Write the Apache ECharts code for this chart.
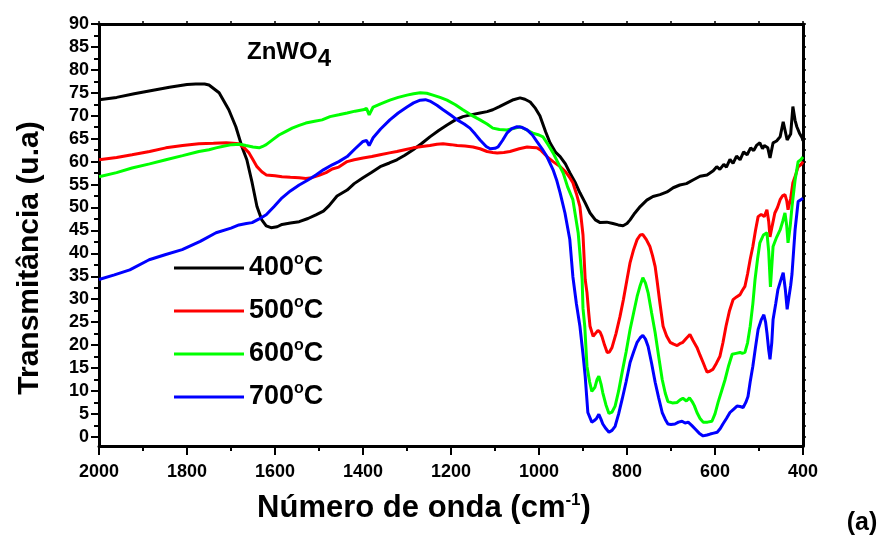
<!DOCTYPE html>
<html><head><meta charset="utf-8">
<script src="https://cdn.jsdelivr.net/npm/echarts@6/dist/echarts.min.js"></script>
<style>html,body{margin:0;padding:0;background:#fff}#c{width:878px;height:540px}</style>
</head><body><div id="c"></div><script>
const seriesNames = ['400°C', '500°C', '600°C', '700°C'];
const xTicks = [2000, 1800, 1600, 1400, 1200, 1000, 800, 600, 400];
const yTicks = [0,5,10,15,20,25,30,35,40,45,50,55,60,65,70,75,80,85,90];

const wn400 = [2000,1960,1920,1880,1840,1800,1780,1760,1750,1727,1705,1689,1675,1664,1652,1641,1630,1620,1609,1595,1584,1565,1545,1525,1507,1490,1477,1459,1436,1420,1400,1380,1361,1340,1323,1305,1286,1266,1248,1228,1209,1190,1173,1150,1134,1118,1105,1090,1073,1058,1043,1032,1020,1008,998,985,975,962,952,940,930,918,907,895,884,872,861,846,832,820,809,800,793,782,770,755,741,725,709,695,680,665,650,634,618,604,596,589,580,574,566,559,551,543,535,527,519,512,505,498,492,488,480,475,468,460,452,445,436,428,423,418,414,408,402,400];
const t400 = [73.5,74.0,74.8,75.5,76.2,76.8,76.9,76.9,76.7,75.0,71.3,67.6,63.2,60.4,55.4,50.2,47.3,46.0,45.6,45.8,46.3,46.6,46.9,47.6,48.4,49.2,50.4,52.5,53.8,55.2,56.5,57.7,58.9,59.7,60.4,61.4,62.6,64.0,65.4,66.8,68.0,69.1,69.8,70.3,70.6,70.9,71.3,72.0,72.8,73.5,73.9,73.6,73.0,71.6,70.0,66.5,64.1,62.0,61.1,59.5,57.6,55.5,53.2,51.0,48.8,47.3,46.7,46.8,46.5,46.2,46.0,46.5,47.3,48.8,50.2,51.6,52.4,52.8,53.4,54.3,54.9,55.2,56.0,56.8,57.1,58.0,58.9,58.3,59.4,58.8,60.5,59.6,61.2,60.4,62.1,61.5,63.0,62.4,63.6,64.1,62.8,63.5,63.0,60.8,64.1,64.5,65.4,68.7,64.7,66.0,72.0,69.0,67.6,66.2,65.2,64.5];

const wn500 = [2000,1960,1925,1885,1848,1810,1773,1740,1711,1695,1682,1670,1659,1650,1641,1630,1620,1600,1584,1565,1545,1530,1516,1500,1484,1470,1455,1436,1420,1400,1380,1361,1340,1323,1305,1286,1266,1248,1232,1218,1200,1186,1168,1150,1134,1118,1105,1095,1080,1066,1045,1027,1015,1005,995,982,968,952,940,930,923,915,907,900,895,891,887,884,877,872,866,861,857,851,845,840,834,825,816,808,800,793,785,777,770,764,756,748,742,736,732,725,718,710,702,694,686,680,673,665,657,650,641,634,627,622,618,612,605,597,589,582,575,567,559,551,543,538,532,526,520,514,508,502,495,488,482,478,475,470,464,458,452,446,441,437,434,428,423,417,411,405,400];
const t500 = [60.4,60.9,61.5,62.2,63.0,63.5,63.9,64.0,64.1,64.0,63.9,63.0,61.9,60.4,58.9,57.8,57.1,56.9,56.7,56.6,56.5,56.3,56.5,57.0,57.6,58.4,58.8,60.0,60.4,60.8,61.1,61.5,61.9,62.2,62.6,63.0,63.3,63.5,63.8,63.9,63.7,63.5,63.4,63.2,62.8,62.2,62.0,61.9,62.0,62.2,62.8,63.2,63.1,63.0,62.4,61.1,60.0,58.9,57.8,56.5,55.4,53.0,50.2,44.0,34.3,31.5,27.0,24.1,21.9,22.5,23.2,22.8,21.9,20.0,18.4,18.5,19.5,22.5,26.2,30.0,34.3,38.0,40.8,43.0,44.0,44.1,43.0,41.5,39.5,37.1,34.3,29.0,24.1,22.0,20.6,20.2,19.9,20.3,20.6,21.5,22.3,21.0,19.5,17.8,16.2,15.0,14.1,14.3,14.7,16.0,17.5,20.5,24.1,27.5,29.9,30.5,31.0,31.9,32.8,35.5,38.7,41.5,45.0,48.0,48.5,48.0,49.5,47.0,43.6,46.0,48.8,50.0,51.7,52.6,52.8,51.5,49.5,52.0,55.4,57.0,58.9,59.3,60.0];

const wn600 = [2000,1960,1925,1885,1848,1810,1773,1750,1734,1715,1698,1680,1666,1650,1636,1628,1620,1605,1591,1575,1561,1545,1530,1510,1493,1475,1455,1436,1418,1400,1392,1386,1377,1360,1339,1320,1300,1285,1270,1255,1241,1225,1209,1190,1173,1155,1134,1118,1105,1090,1073,1058,1043,1030,1014,1000,991,980,968,958,945,935,923,911,902,900,896,891,885,880,873,868,864,859,855,848,841,834,827,819,811,802,793,785,777,770,764,758,752,744,736,728,720,713,707,697,686,680,673,665,658,652,647,641,634,627,617,607,600,593,585,577,569,561,552,543,538,532,526,520,514,509,503,498,490,482,478,474,468,460,452,446,441,437,434,429,425,418,411,405,400];
const t600 = [56.7,57.6,58.6,59.5,60.4,61.3,62.2,62.6,63.0,63.4,63.7,63.8,63.5,63.2,63.0,63.3,63.7,64.8,65.8,66.6,67.3,67.9,68.4,68.8,69.1,69.8,70.2,70.6,71.0,71.3,71.6,70.2,71.9,72.6,73.4,74.0,74.5,74.8,75.0,74.9,74.5,74.0,73.4,72.4,71.3,70.2,69.1,68.2,67.3,67.0,66.9,67.2,67.6,67.0,66.2,65.8,65.4,63.8,61.9,60.0,57.5,54.5,51.7,44.5,34.3,28.0,24.1,15.4,12.0,9.9,10.8,12.5,13.2,11.5,9.6,7.0,5.1,5.4,6.7,10.0,14.1,18.5,23.4,27.0,30.6,33.0,34.7,33.5,31.4,27.0,22.7,17.5,12.5,9.5,7.7,7.4,7.5,8.0,8.4,7.8,8.5,7.7,6.8,5.3,4.0,3.2,3.2,3.4,5.0,7.5,10.0,12.5,15.5,18.0,18.2,18.4,18.2,18.4,20.5,24.1,29.0,34.3,39.0,42.3,44.0,44.5,40.5,32.7,41.5,43.5,45.1,47.0,48.8,46.0,42.3,46.0,50.2,56.0,60.0,60.4,61.0];

const wn700 = [2000,1965,1930,1886,1850,1811,1770,1734,1700,1682,1665,1652,1636,1620,1602,1584,1565,1545,1525,1507,1490,1470,1455,1436,1418,1400,1392,1386,1377,1360,1339,1320,1300,1285,1270,1258,1248,1232,1218,1200,1186,1170,1157,1145,1134,1120,1111,1100,1093,1083,1073,1062,1050,1040,1027,1015,1005,993,982,968,960,952,941,930,923,915,907,900,895,889,880,875,870,864,859,855,848,841,834,827,819,811,802,793,785,777,770,764,758,752,744,736,728,720,713,707,700,691,683,675,668,661,653,645,636,627,618,611,603,595,588,582,574,566,558,550,543,536,530,525,520,514,508,502,495,489,485,482,478,475,471,468,462,457,451,445,440,436,432,428,425,421,418,411,405,400];
const t700 = [34.3,35.3,36.4,38.6,39.7,40.8,42.6,44.5,45.5,46.2,46.5,46.7,47.5,48.4,50.2,52.1,53.6,54.9,56.0,57.1,58.2,59.3,60.0,61.1,62.8,64.4,64.6,63.5,65.2,67.1,69.1,70.6,71.9,72.8,73.4,73.5,73.2,72.3,71.3,70.1,69.1,68.2,67.3,66.0,64.7,63.3,62.8,62.9,63.2,64.6,66.2,67.2,67.6,67.5,66.9,65.8,64.4,62.8,61.1,58.2,56.0,53.2,48.8,43.0,34.9,29.0,24.1,18.0,13.2,5.3,3.2,3.5,3.9,4.9,3.8,2.8,1.8,1.0,1.4,2.3,5.0,8.2,12.0,16.2,18.5,20.6,21.6,22.1,21.3,19.7,16.0,11.9,8.5,5.3,3.8,2.8,2.7,2.8,3.2,3.4,3.0,3.2,2.5,1.7,0.8,0.2,0.4,0.6,0.8,1.0,1.8,2.8,4.0,5.3,6.0,6.7,6.6,6.4,7.5,8.8,12.0,15.4,19.5,23.4,25.5,26.6,25.0,22.7,19.0,16.9,20.5,25.6,29.0,32.1,34.0,35.8,32.0,27.8,30.5,33.0,35.5,41.0,45.1,51.3,51.7,52.0];

const colors = ['#000000', '#ff0000', '#00ff00', '#0000ff'];
const FONT = '"Liberation Sans", Arial, sans-serif';
const zip = (a, b) => a.map((v, i) => [v, b[i]]);
const allData = [zip(wn400, t400), zip(wn500, t500), zip(wn600, t600), zip(wn700, t700)];

const minorY = [];
for (let v = 2.5; v < 90; v += 5) minorY.push(v);
const rightY = [];
for (let v = 0; v <= 90; v += 2.5) rightY.push(v);

const chart = echarts.init(document.getElementById('c'), null, {renderer: 'canvas'});
const axisLineStyle = {color: '#000', width: 3};
chart.setOption({
  animation: false,
  backgroundColor: '#fff',
  grid: {left: 99, right: 75, top: 24, bottom: 94, containLabel: false},
  xAxis: [
    {type: 'value', min: 400, max: 2000, interval: 200, inverse: true, position: 'bottom',
     axisLine: {show: true, onZero: false, lineStyle: axisLineStyle},
     axisTick: {show: true, inside: false, length: 9, lineStyle: {color: '#000', width: 2}},
     minorTick: {show: true, splitNumber: 2, length: 5, lineStyle: {color: '#000', width: 2}},
     splitLine: {show: false}, minorSplitLine: {show: false},
     axisLabel: {show: true, margin: 17, fontSize: 18, fontWeight: 'bold', color: '#000', fontFamily: FONT,
       customValues: xTicks, formatter: v => String(v)}},
    {type: 'value', min: 400, max: 2000, interval: 100, inverse: true, position: 'top',
     axisLine: {show: true, onZero: false, lineStyle: axisLineStyle},
     axisTick: {show: true, inside: false, length: 3, lineStyle: {color: '#000', width: 1.5}},
     splitLine: {show: false}, axisLabel: {show: false}}
  ],
  yAxis: [
    {type: 'value', min: -2, max: 90, position: 'left',
     axisLine: {show: true, onZero: false, lineStyle: axisLineStyle},
     axisTick: {show: true, inside: false, length: 8, lineStyle: {color: '#000', width: 2}, customValues: yTicks},
     splitLine: {show: false},
     axisLabel: {show: true, margin: 10, fontSize: 18, fontWeight: 'bold', color: '#000', fontFamily: FONT,
       customValues: yTicks}},
    {type: 'value', min: -2, max: 90, position: 'left',
     axisLine: {show: false, onZero: false},
     axisTick: {show: true, inside: false, length: 5, lineStyle: {color: '#000', width: 2}, customValues: minorY},
     splitLine: {show: false}, axisLabel: {show: false}},
    {type: 'value', min: -2, max: 90, position: 'right',
     axisLine: {show: true, onZero: false, lineStyle: axisLineStyle},
     axisTick: {show: true, inside: false, length: 3, lineStyle: {color: '#000', width: 1.5}, customValues: rightY},
     splitLine: {show: false}, axisLabel: {show: false}}
  ],
  legend: {
    show: true, orient: 'vertical', left: 174, top: 252, padding: 0,
    itemWidth: 70, itemHeight: 3, itemGap: 11, icon: 'rect',
    data: seriesNames,
    formatter: name => name.replace('°', '{s|o}'),
    textStyle: {fontSize: 27, fontWeight: 'bold', color: '#000', fontFamily: FONT, lineHeight: 30,
      rich: {s: {fontSize: 16, fontWeight: 'bold', color: '#000', fontFamily: FONT, lineHeight: 12, padding: [0, 0, 16, 0]}}}
  },
  series: seriesNames.map((n, i) => ({
    name: n, type: 'line', xAxisIndex: 0, yAxisIndex: 0,
    data: allData[i], showSymbol: false, symbol: 'none', smooth: false,
    lineStyle: {color: colors[i], width: 3}, itemStyle: {color: colors[i]}
  })),
  graphic: [
    {type: 'text', x: 30, y: 258, rotation: Math.PI / 2,
     style: {text: 'Transmitância (u.a)', fontSize: 30, fontWeight: 'bold', fill: '#000', fontFamily: FONT,
       align: 'center', verticalAlign: 'middle'}},
    {type: 'text', x: 424, y: 508,
     style: {text: 'Número de onda (cm{s|-1})', fontSize: 31, fontWeight: 'bold', fill: '#000', fontFamily: FONT,
       align: 'center', verticalAlign: 'middle',
       rich: {s: {fontSize: 17, fontWeight: 'bold', fill: '#000', fontFamily: FONT, lineHeight: 14, padding: [0, 0, 16, 0]}}}},
    {type: 'text', x: 862, y: 523,
     style: {text: '(a)', fontSize: 25, fontWeight: 'bold', fill: '#000', fontFamily: FONT,
       align: 'center', verticalAlign: 'middle'}},
    {type: 'text', x: 247, y: 52,
     style: {text: 'ZnWO{s|4}', fontSize: 24, fontWeight: 'bold', fill: '#000', fontFamily: FONT,
       align: 'left', verticalAlign: 'middle',
       rich: {s: {fontSize: 24, fontWeight: 'bold', fill: '#000', fontFamily: FONT, padding: [14, 0, 0, 0]}}}}
  ]
});
</script></body></html>
